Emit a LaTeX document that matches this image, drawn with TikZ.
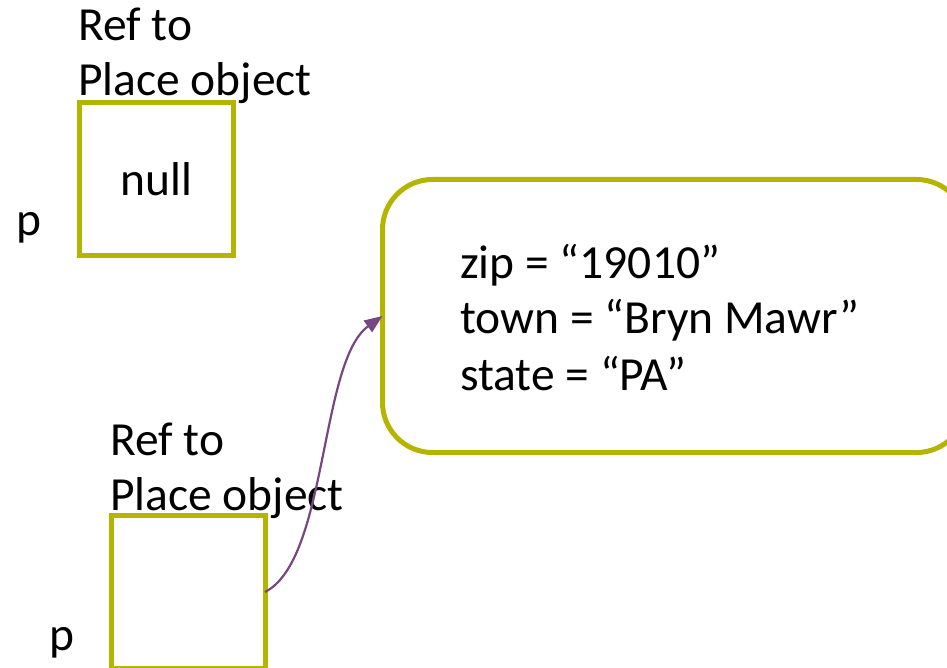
\documentclass[tikz,border=0pt]{standalone}
\usepackage{fontspec}
\setmainfont{Carlito}
\usetikzlibrary{arrows.meta}
\definecolor{boxolive}{RGB}{181,180,0}
\definecolor{refpurple}{RGB}{120,70,128}

\begin{document}
\begin{tikzpicture}[x=1pt, y=-1pt]
  \tikzstyle{lbl}=[inner sep=0pt, anchor=base west, font=\fontsize{47.5}{56}\selectfont]
  \tikzstyle{refbox}=[rectangle, draw=boxolive, line width=5pt, minimum width=154pt,
                      minimum height=153pt, inner sep=0pt, outer sep=0pt,
                      font=\fontsize{47.5}{56}\selectfont]
  \tikzstyle{objbox}=[rectangle, rounded corners=50pt, draw=boxolive, line width=5pt,
                      minimum width=584pt, minimum height=273pt, outer sep=0pt]
  \tikzstyle{refarrow}=[-{Triangle[length=18pt, width=14pt]}, draw=refpurple, line width=2.2pt]

  \useasboundingbox (0,0) rectangle (947,668);
  \clip (0,0) rectangle (947,668);

  % Referencia vazia
  \node[lbl] (ref1) at (78,41) {Ref to};
  \node[lbl] (ref1b) at (78,96) {Place object};
  \node[refbox] (p1) at (156.5,179) {null};
  \node[lbl] (p1name) at (16,236) {p};

  % Referencia para o objeto
  \node[lbl] (ref2) at (110,455) {Ref to};
  \node[lbl] (ref2b) at (110,510) {Place object};
  \node[refbox] (p2) at (188,592) {};
  \node[lbl] (p2name) at (49,650) {p};

  % Objeto Place
  \node[objbox] (place) at (674.5,316) {};
  \node[lbl] (zip) at (460,278) {zip = “19010”};
  \node[lbl] (town) at (460,333) {town = “Bryn Mawr”};
  \node[lbl] (state) at (460,390) {state = “PA”};

  \draw[refarrow] (p2.east) .. controls +(63,-32) and +(-63,45) .. (place.west);
\end{tikzpicture}
\end{document}
